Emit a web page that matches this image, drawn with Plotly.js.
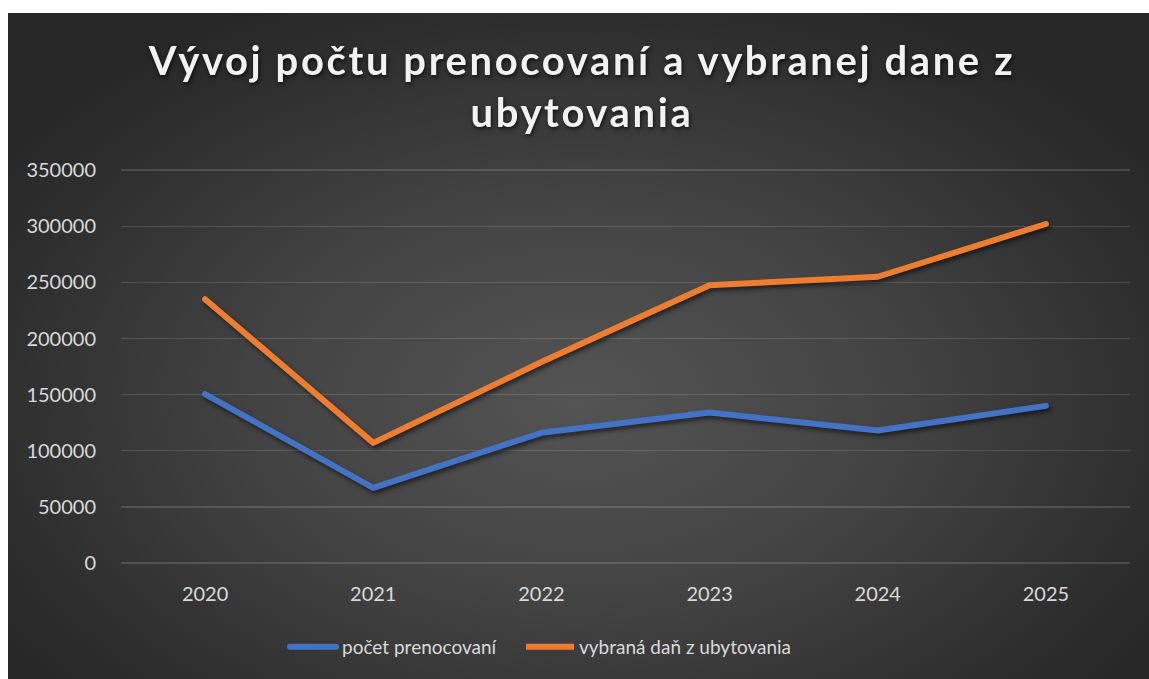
<!DOCTYPE html>
<html>
<head>
<meta charset="utf-8">
<script src="https://cdn.plot.ly/plotly-3.0.1.min.js"></script>
<style>
  html, body { margin: 0; padding: 0; background: #ffffff; width: 1149px; height: 679px; overflow: hidden; }
  #frame {
    position: absolute; left: 8px; top: 13px; width: 1141px; height: 666px;
    background: radial-gradient(ellipse 62% 68% at 50% 58%, #545454 0%, #434343 45%, #2d2d2d 85%, #272727 100%);
  }
  #chart { width: 1141px; height: 666px; }
  .scatterlayer .trace path.js-line { stroke-linecap: round; stroke-linejoin: round; filter: drop-shadow(2px 3px 2px rgba(0,0,0,0.55)); }
  .gtitle { letter-spacing: 2.6px; filter: drop-shadow(1px 2px 2px rgba(0,0,0,0.7)); }
  .legend .traces path.js-line { stroke-linecap: round; }
</style>
</head>
<body>
<div id="frame"><div id="chart"></div></div>
<script>
const years = ['2020', '2021', '2022', '2023', '2024', '2025'];
const prenocovania = [150500, 67000, 116000, 134000, 118000, 140000];
const dan = [235000, 107000, 179000, 247500, 255000, 302000];
const seriesNames = ['počet prenocovaní', 'vybraná daň z ubytovania'];
const yTicks = [0, 50000, 100000, 150000, 200000, 250000, 300000, 350000];
const titleText = 'Vývoj počtu prenocovaní a vybranej dane z<br>ubytovania';

const tickFont = { family: 'Lato, "Open Sans", sans-serif', size: 20, color: '#d9d9d9' };
const legendFont = { family: 'Lato, "Open Sans", sans-serif', size: 19, color: '#d9d9d9' };

const traces = [
  { x: years, y: prenocovania, name: seriesNames[0], type: 'scatter', mode: 'lines',
    line: { color: '#4472C4', width: 6 }, legend: 'legend' },
  { x: years, y: dan, name: seriesNames[1], type: 'scatter', mode: 'lines',
    line: { color: '#ED7D31', width: 6 }, legend: 'legend2' }
];

const legendBase = {
  orientation: 'h', xanchor: 'left', xref: 'container',
  yref: 'container', y: 1 - 634/666, yanchor: 'middle',
  font: legendFont, bgcolor: 'rgba(0,0,0,0)', itemwidth: 48, entrywidth: 0
};

const layout = {
  width: 1141, height: 666,
  paper_bgcolor: 'rgba(0,0,0,0)', plot_bgcolor: 'rgba(0,0,0,0)',
  margin: { l: 113, r: 19, t: 156, b: 116 },
  title: {
    text: titleText,
    font: { family: 'Lato, "Open Sans", sans-serif', size: 40, color: '#f2f2f2', weight: 'bold' },
    xref: 'container', x: 0.503, xanchor: 'center',
    yref: 'container', y: 1 - 62/666, yanchor: 'middle'
  },
  xaxis: {
    type: 'category', range: [-0.5, 5.5],
    showgrid: false, zeroline: false, showline: false, ticks: '',
    tickfont: tickFont, ticklabelstandoff: 17
  },
  yaxis: {
    range: [0, 351000], tickvals: yTicks, ticktext: yTicks.map(String),
    showgrid: true, gridcolor: 'rgba(255,255,255,0.14)', gridwidth: 1.3,
    zeroline: true, zerolinecolor: 'rgba(255,255,255,0.14)', zerolinewidth: 1.3,
    showline: false, ticks: '', tickfont: tickFont, ticklabelstandoff: 24
  },
  legend: Object.assign({}, legendBase, { x: 276/1141 }),
  legend2: Object.assign({}, legendBase, { x: 513/1141 }),
  showlegend: true
};

Plotly.newPlot('chart', traces, layout, { displayModeBar: false, staticPlot: true }).then(function () {
  document.querySelectorAll('.legend .traces path.js-line').forEach(function (p) {
    p.setAttribute('d', 'M6,0h46');
  });
});
</script>
</body>
</html>
